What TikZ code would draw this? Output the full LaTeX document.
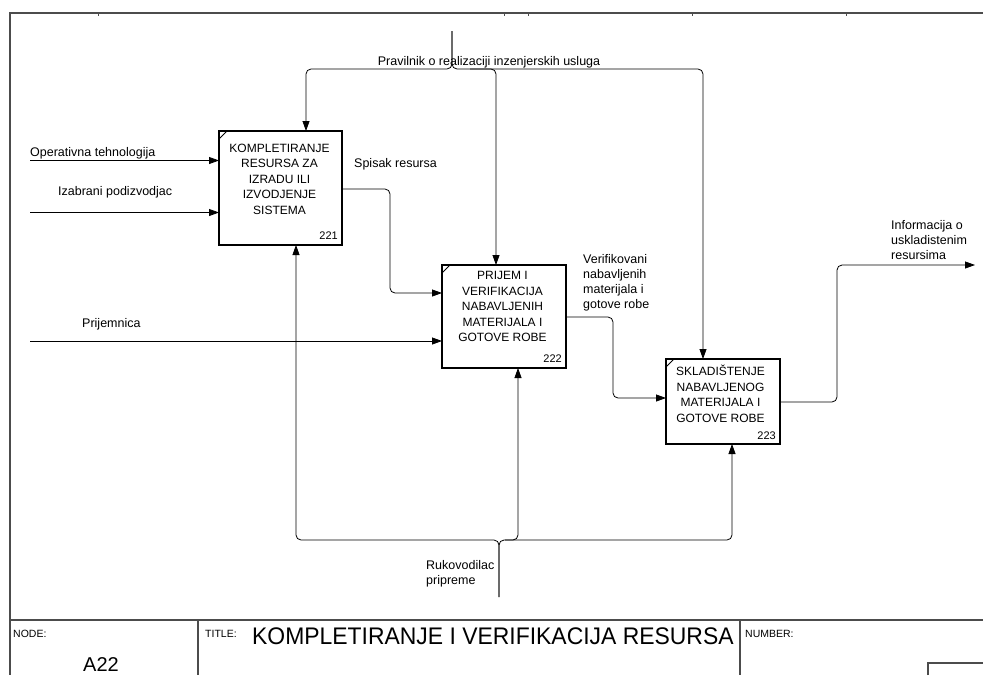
\documentclass[tikz,border=0pt]{standalone}
\usepackage{fontspec}
\setmainfont{Liberation Sans}
\usetikzlibrary{arrows.meta}
\begin{document}
\begin{tikzpicture}[x=1pt,y=-1pt,
  conn/.style={line width=0.8pt, rounded corners=5pt},
  arr/.style={conn, -{Triangle[length=10pt,width=7pt]}},
  actbox/.style={draw, line width=1.6pt, rectangle, inner sep=0pt, outer sep=0pt},
  acttext/.style={align=center, font=\fontsize{12}{15.5}\selectfont, inner sep=0pt},
  actnum/.style={font=\fontsize{11}{13}\selectfont, inner sep=0pt, anchor=base east},
  lbl/.style={font=\fontsize{12.5}{15}\selectfont, inner sep=0pt, align=left},
  frame/.style={line width=1.2pt, draw=black!70},
  small/.style={font=\fontsize{10.5}{12}\selectfont, inner sep=0pt, anchor=base west},
]
\useasboundingbox (0,0) rectangle (983,675);

% sheet frame
\draw[frame] (983,13) -- (10,13) -- (10,675);
\draw[frame] (10,620) -- (983,620);
\draw[frame] (198,620) -- (198,675);
\draw[frame] (740,620) -- (740,675);
\draw[frame] (928,675) -- (928,663) -- (983,663);
\foreach \tx in {98,504,528,692,846}
  \draw[frame, line width=0.8pt] (\tx,13) -- (\tx,15.5);

% activity boxes
\node[actbox, minimum width=123pt, minimum height=114pt] (b1) at (280.5,188) {};
\node[actbox, minimum width=124pt, minimum height=103pt] (b2) at (504,316.5) {};
\node[actbox, minimum width=114pt, minimum height=85pt] (b3) at (723,401.5) {};
\foreach \b in {b1,b2,b3}
  \draw[line width=1pt] ([yshift=-8pt]\b.north west) -- ([xshift=8pt]\b.north west);

\node[acttext] (t1) at (279.5,179) {KOMPLETIRANJE\\RESURSA ZA\\IZRADU ILI\\IZVODJENJE\\SISTEMA};
\node[acttext] (t2) at (502.5,306.5) {PRIJEM I\\VERIFIKACIJA\\NABAVLJENIH\\MATERIJALA I\\GOTOVE ROBE};
\node[acttext] (t3) at (720.5,394) {SKLADIŠTENJE\\NABAVLJENOG\\MATERIJALA I\\GOTOVE ROBE};

\node[actnum] (n1) at ([xshift=-4pt,yshift=6pt]b1.south east) {221};
\node[actnum] (n2) at ([xshift=-4pt,yshift=6pt]b2.south east) {222};
\node[actnum] (n3) at ([xshift=-4pt,yshift=5pt]b3.south east) {223};

% inputs
\coordinate (i1) at (30,160.5);
\coordinate (i2) at (30,212.5);
\coordinate (i3) at (30,341);
\draw[arr] (i1) -- (i1 -| b1.west);
\draw[arr] (i2) -- (i2 -| b1.west);
\draw[arr] (i3) -- (i3 -| b2.west);
\node[lbl, anchor=base west] (l1) at (30,156) {Operativna tehnologija};
\node[lbl, anchor=base west] (l2) at (58,195) {Izabrani podizvodjac};
\node[lbl, anchor=base west] (l3) at (82,327) {Prijemnica};

% outputs
\draw[arr] (b1.east |- 0,189) -- (390,189) -- (390,293) -- (b2.west |- 0,293);
\node[lbl, anchor=base west] (l4) at (354,167) {Spisak resursa};
\draw[arr] (b2.east |- 0,317) -- (613,317) -- (613,398) -- (b3.west |- 0,398);
\node[lbl, anchor=north west] (l5) at (583,254.5) {Verifikovani\\nabavljenih\\materijala i\\gotove robe};
\coordinate (o3) at (975,265);
\draw[arr] (b3.east |- 0,402) -- (837,402) -- (837,265) -- (o3);
\node[lbl, anchor=north west] (l6) at (891,220) {Informacija o\\uskladistenim\\resursima};

% controls
\coordinate (c0) at (452,31);
\draw[arr] (c0) -- (452,69) -- (306,69) -- (306,0 |- b1.north);
\draw[arr] (c0) -- (452,69) -- (703,69) -- (703,0 |- b3.north);
\draw[arr] (470,69) -- (496,69) -- (496,0 |- b2.north);
\node[lbl, anchor=base] (l7) at (489,65.5) {Pravilnik o realizaciji inzenjerskih usluga};

% mechanisms
\coordinate (m0) at (499,597);
\draw[arr] (m0) -- (499,540) -- (296,540) -- (296,0 |- b1.south);
\draw[arr] (m0) -- (499,540) -- (732,540) -- (732,0 |- b3.south);
\draw[arr] (505,540) -- (518,540) -- (518,0 |- b2.south);
\node[lbl, anchor=north west] (l8) at (426,560) {Rukovodilac\\pripreme};

% title block
\node[small] (f1) at (13,637) {NODE:};
\node[small] (f2) at (205,637) {TITLE:};
\node[small] (f3) at (745,637) {NUMBER:};
\node[font=\fontsize{20}{24}\selectfont, inner sep=0pt, anchor=base] (f4) at (101,671) {A22};
\node[font=\fontsize{24}{28}\selectfont, inner sep=0pt, anchor=base west] (f5) at (252,644)
  {\scalebox{0.955}[1]{KOMPLETIRANJE I VERIFIKACIJA RESURSA}};
\end{tikzpicture}
\end{document}
